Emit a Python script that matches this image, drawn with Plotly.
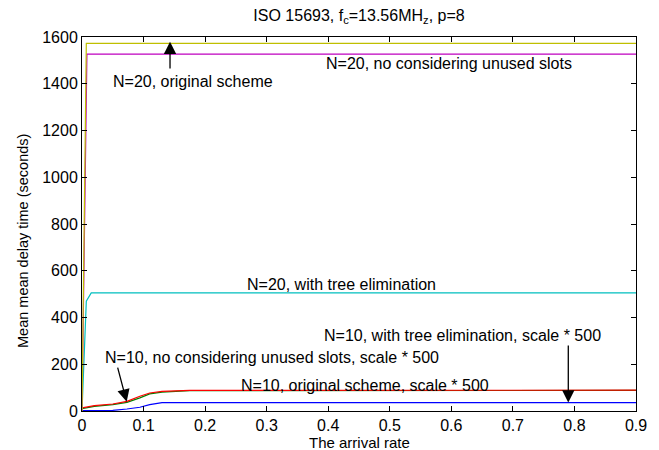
import plotly.graph_objects as go

# ---- data ----
x_n20_orig = [0, 0.007, 0.9]
y_n20_orig = [0, 1573, 1573]

x_n20_nocons = [0, 0.008, 0.9]
y_n20_nocons = [0, 1527, 1527]

x_n20_tree = [0, 0.007, 0.015, 0.9]
y_n20_tree = [0, 470, 505, 505]

x_n10_tree = [0, 0.02, 0.05, 0.073, 0.094, 0.11, 0.13, 0.175, 0.9]
y_n10_tree = [13, 23, 30, 41, 63, 77, 84, 88, 89]

x_n10_nocons = [0, 0.02, 0.05, 0.073, 0.094, 0.11, 0.13, 0.175, 0.9]
y_n10_nocons = [10, 20, 27, 37, 56, 73, 81, 87, 88]

x_n10_orig = [0, 0.05, 0.073, 0.094, 0.11, 0.13, 0.9]
y_n10_orig = [1.5, 3, 8.5, 16, 27, 35.5, 35.5]

x_ticks = [0, 0.1, 0.2, 0.3, 0.4, 0.5, 0.6, 0.7, 0.8, 0.9]
x_ticklabels = ["0", "0.1", "0.2", "0.3", "0.4", "0.5", "0.6", "0.7", "0.8", "0.9"]
y_ticks = [0, 200, 400, 600, 800, 1000, 1200, 1400, 1600]

FONT = "Arial"
FS = 16

fig = go.Figure()
series = [
    (x_n10_orig, y_n10_orig, "rgb(0,0,255)"),
    (x_n10_nocons, y_n10_nocons, "rgb(0,128,0)"),
    (x_n10_tree, y_n10_tree, "rgb(255,0,0)"),
    (x_n20_tree, y_n20_tree, "rgb(0,191,191)"),
    (x_n20_nocons, y_n20_nocons, "rgb(191,0,191)"),
    (x_n20_orig, y_n20_orig, "rgb(191,191,0)"),
]
for xs, ys, c in series:
    fig.add_trace(go.Scatter(x=xs, y=ys, mode="lines",
                             line=dict(color=c, width=1.2), showlegend=False,
                             hoverinfo="skip"))

def txt(x, y, s, anchor):
    fig.add_annotation(x=x, y=y, xref="x", yref="y", text=s, showarrow=False,
                       xanchor=anchor, yanchor="middle", borderpad=0,
                       font=dict(family=FONT, size=FS, color="black"))

def arrow(xt, yt, xh, yh):
    fig.add_annotation(x=xh, y=yh, ax=xt, ay=yt, xref="x", yref="y",
                       axref="x", ayref="y", text="", showarrow=True,
                       arrowhead=2, arrowsize=1.9, arrowwidth=1.3,
                       arrowcolor="black")

txt(0.798, 1488, "N=20, no considering unused slots", "right")
txt(0.048, 1409, "N=20, original scheme", "left")
txt(0.577, 543, "N=20, with tree elimination", "right")
txt(0.844, 322, "N=10, with tree elimination, scale * 500", "right")
txt(0.0362, 231, "N=10, no considering unused slots, scale * 500", "left")
txt(0.663, 107, "N=10, original scheme, scale * 500", "right")

arrow(0.143, 1459, 0.143, 1580)
arrow(0.0573, 192, 0.0726, 40)
arrow(0.79, 287, 0.79, 36)

# axis titles
fig.add_annotation(x=(23 - 82) / 554, y=(411 - 241) / 374, xref="paper", yref="paper",
                   text="Mean mean delay time (seconds)", textangle=-90,
                   showarrow=False, xanchor="center", yanchor="middle",
                   font=dict(family=FONT, size=14.5, color="black"))
fig.add_annotation(x=0.5, y=-31 / 374, xref="paper", yref="paper",
                   text="The arrival rate", showarrow=False,
                   xanchor="center", yanchor="middle", borderpad=0,
                   font=dict(family=FONT, size=15, color="black"))

axis_common = dict(showgrid=False, zeroline=False, showline=True,
                   linecolor="black", linewidth=1, mirror="ticks",
                   ticks="inside", ticklen=5, tickcolor="black",
                   automargin=False,
                   tickfont=dict(family=FONT, size=FS, color="black"))

fig.update_layout(
    width=659, height=450,
    margin=dict(l=82, r=23, t=37, b=39, autoexpand=False),
    paper_bgcolor="white", plot_bgcolor="white",
    title=dict(text="ISO 15693, f<sub>c</sub>=13.56MH<sub>z</sub>, p=8",
               x=0.5, xref="paper", y=1 - 15 / 450, yref="container",
               xanchor="center", yanchor="middle",
               font=dict(family=FONT, size=FS, color="black")),
    xaxis=dict(range=[0, 0.9], tickvals=x_ticks, ticktext=x_ticklabels,
               **axis_common),
    yaxis=dict(range=[0, 1600], tickvals=y_ticks, **axis_common),
)

fig.write_html("out.html",
               config={"displayModeBar": False, "staticPlot": True},
               post_script="document.body.style.margin='0';document.body.style.overflow='hidden';")
